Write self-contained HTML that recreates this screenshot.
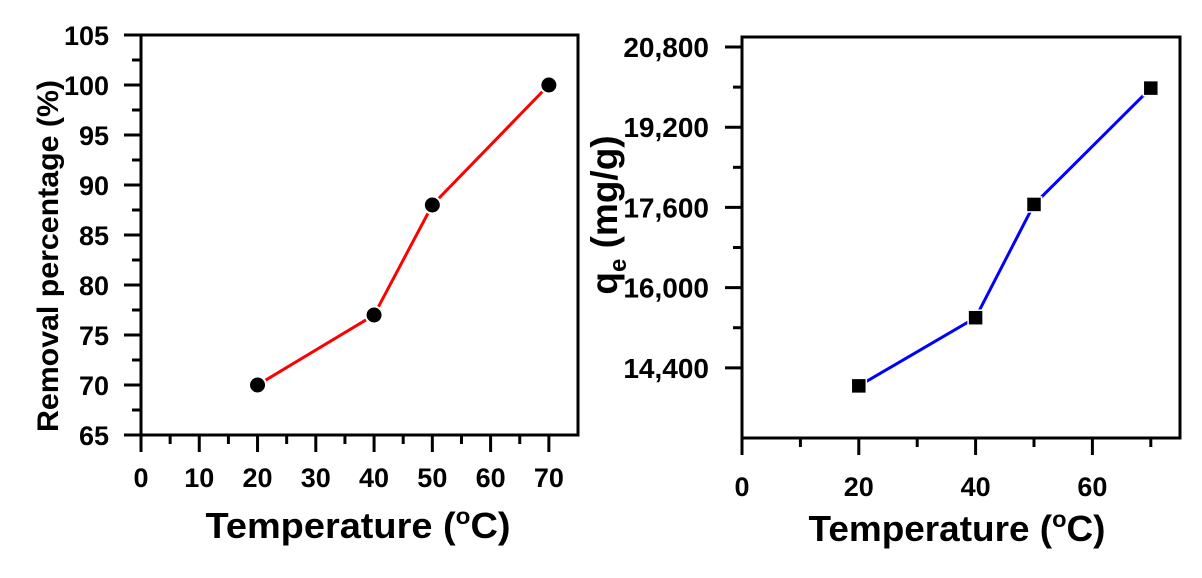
<!DOCTYPE html>
<html><head><meta charset="utf-8"><style>
html,body{margin:0;padding:0;background:#fff;}
svg{display:block;font-family:"Liberation Sans",Arial,sans-serif;font-weight:bold;}
</style></head><body>
<svg id="c" width="1202" height="578" viewBox="0 0 1202 578"></svg>
<script>
const temps=[20,40,50,70];
const removal=[70,77,88,100];
const qe=[14040,15400,17660,19980];
const leftXTicks=[0,10,20,30,40,50,60,70];
const leftYTicks=[65,70,75,80,85,90,95,100,105];
const rightXTicks=[0,20,40,60];
const rightYTicks=[14400,16000,17600,19200,20800];
const rightYLabels=["14,400","16,000","17,600","19,200","20,800"];

const svg=document.getElementById('c');
const NS='http://www.w3.org/2000/svg';
function mk(t,a,p){const e=document.createElementNS(NS,t);for(const k in a)e.setAttribute(k,a[k]);(p||svg).appendChild(e);return e;}

function panel(o){
  const g=mk('g',{});
  
  
  const sx=v=>o.x0+(v-o.xmin)/(o.xmax-o.xmin)*(o.x1-o.x0);
  const sy=v=>o.y1-(v-o.ymin)/(o.ymax-o.ymin)*(o.y1-o.y0);
  const box=mk('rect',{x:o.x0,y:o.y0,width:o.x1-o.x0,height:o.y1-o.y0,fill:'none',stroke:'#000','stroke-width':3},g);
  
  
  o.yTicks.forEach((v,i)=>{
    const y=sy(v);
    mk('line',{x1:o.x0-17,x2:o.x0,y1:y,y2:y,stroke:'#000','stroke-width':3},g);
    const t=mk('text',{x:o.x0-o.yLabOff,y:y+10,'text-anchor':'end','font-size':o.yFont},g);
    t.textContent=o.yLabels?o.yLabels[i]:v;
    
    
    if(i<o.yTicks.length-1){
      const ym=sy((v+o.yTicks[i+1])/2);
      mk('line',{x1:o.x0-9,x2:o.x0,y1:ym,y2:ym,stroke:'#000','stroke-width':3},g);
    }
  });
  const step=o.xTicks[1]-o.xTicks[0];
  o.xTicks.forEach(v=>{
    const x=sx(v);
    mk('line',{x1:x,x2:x,y1:o.y1,y2:o.y1+17,stroke:'#000','stroke-width':3},g);
    const t=mk('text',{x:x,y:o.y1+o.xLabOff,'text-anchor':'middle','font-size':27},g);
    t.textContent=v;
    
    
    const m=v+step/2;
    if(m<o.xmax){const xm=sx(m);mk('line',{x1:xm,x2:xm,y1:o.y1,y2:o.y1+9,stroke:'#000','stroke-width':3},g);}
  });
  const pts=o.xs.map((v,i)=>sx(v)+','+sy(o.ys[i])).join(' ');
  const pl=mk('polyline',{points:pts,fill:'none',stroke:o.color,'stroke-width':3},g);
  
  
  o.xs.forEach((v,i)=>{
    let m;
    if(o.marker==='circle') m=mk('circle',{cx:sx(v),cy:sy(o.ys[i]),r:8.5,fill:'#000',stroke:'#fff','stroke-width':2},g);
    else m=mk('rect',{x:sx(v)-7.5,y:sy(o.ys[i])-7.5,width:15,height:15,fill:'#000',stroke:'#fff','stroke-width':1.5},g);
    
    
  });
  return g;
}

panel({name:'removal-chart',x0:141,x1:578,y0:35,y1:435,xmin:0,xmax:75,ymin:65,ymax:105,yLabOff:32,yFont:27,xLabOff:52,
  xTicks:leftXTicks,yTicks:leftYTicks,xs:temps,ys:removal,color:'#ff0000',marker:'circle'});
panel({name:'qe-chart',x0:742,x1:1180,y0:37,y1:438,xmin:0,xmax:75,ymin:13000,ymax:21000,yLabOff:33,yFont:28,xLabOff:58,
  xTicks:rightXTicks,yTicks:rightYTicks,yLabels:rightYLabels,xs:temps,ys:qe,color:'#0000ff',marker:'square'});

let t;
t=mk('text',{x:358,y:538,'text-anchor':'middle','font-size':36,textLength:305,lengthAdjust:'spacingAndGlyphs'});
t.innerHTML='Temperature (<tspan font-size="23" dy="-14">o</tspan><tspan dy="14">C)</tspan>';


t=mk('text',{x:957,y:541,'text-anchor':'middle','font-size':36,textLength:297,lengthAdjust:'spacingAndGlyphs'});
t.innerHTML='Temperature (<tspan font-size="23" dy="-14">o</tspan><tspan dy="14">C)</tspan>';


t=mk('text',{x:0,y:0,'text-anchor':'middle','font-size':30,transform:'translate(58,256) rotate(-90)',textLength:352,lengthAdjust:'spacingAndGlyphs'});
t.textContent='Removal percentage (%)';


t=mk('text',{x:0,y:0,'text-anchor':'middle','font-size':37,transform:'translate(617,215) rotate(-90)'});
t.innerHTML='q<tspan font-size="24" dy="9">e</tspan><tspan dy="-9"> (mg/g)</tspan>';


</script>
</body></html>
